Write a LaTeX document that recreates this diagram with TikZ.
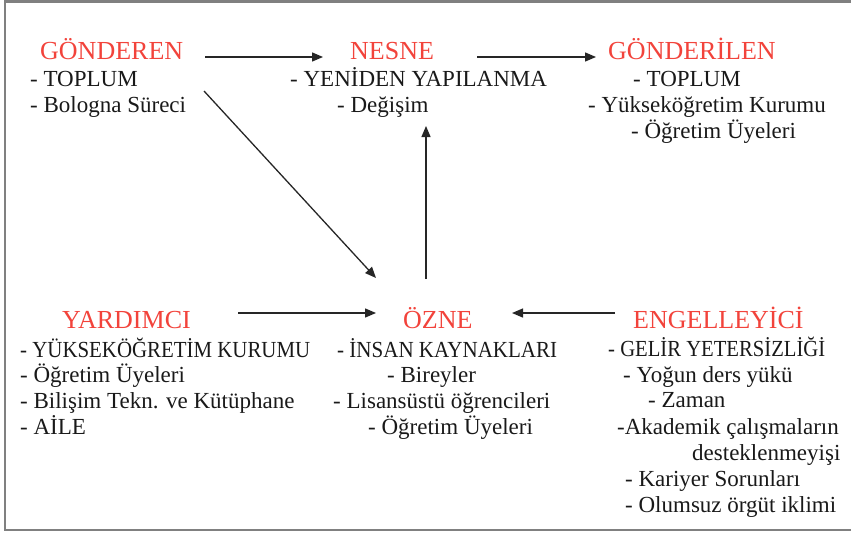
\documentclass[tikz,border=0pt]{standalone}
\usepackage{fontspec}
\usepackage{graphicx}
\setmainfont{Liberation Serif}
\usetikzlibrary{arrows.meta}
\definecolor{actred}{HTML}{F2433B}
\definecolor{actgray}{HTML}{808080}
\tikzset{
  role/.style={anchor=base west, inner sep=0pt, text=actred, font=\fontsize{26}{30}\selectfont},
  item/.style={anchor=base west, inner sep=0pt, text=black!90, font=\fontsize{23}{27}\selectfont},
  link/.style={-{Triangle[length=11pt,width=9pt]}, line width=1.3pt, black!85},
}
% condensed capitals line, kept at its own height
\newcommand{\capline}[2]{\resizebox{#1}{\height}{#2}}

\begin{document}
\begin{tikzpicture}[x=1pt, y=-1pt]
  \useasboundingbox (0,0) rectangle (851,533);
  % frame
  \draw[actgray, line width=2.2pt] (853,1.5) -- (5,1.5) -- (5,530) -- (853,530);

  % Gonderen
  \node[role] (gonderen) at (40,59) {GÖNDEREN};
  \node[item] (gonderenA) at (30,86) {- TOPLUM};
  \node[item] (gonderenB) at (30,112) {- Bologna Süreci};

  % Nesne
  \node[role] (nesne) at (350,59) {NESNE};
  \node[item] (nesneA) at (290,86) {- YENİDEN YAPILANMA};
  \node[item] (nesneB) at (337,112) {- Değişim};

  % Gonderilen
  \node[role] (gonderilen) at (608,59) {GÖNDERİLEN};
  \node[item] (gonderilenA) at (633,86) {- TOPLUM};
  \node[item] (gonderilenB) at (588,112) {- Yükseköğretim Kurumu};
  \node[item] (gonderilenC) at (631,138) {- Öğretim Üyeleri};

  % Yardimci
  \node[role] (yardimci) at (62,328) {YARDIMCI};
  \node[item] (yardimciA) at (20,357) {\capline{290pt}{- YÜKSEKÖĞRETİM KURUMU}};
  \node[item] (yardimciB) at (20,382) {- Öğretim Üyeleri};
  \node[item] (yardimciC) at (20,408) {- Bilişim Tekn. ve Kütüphane};
  \node[item] (yardimciD) at (20,434) {- AİLE};

  % Ozne
  \node[role] (ozne) at (403,328) {ÖZNE};
  \node[item] (ozneA) at (337,357) {\capline{220pt}{- İNSAN KAYNAKLARI}};
  \node[item] (ozneB) at (387,382) {- Bireyler};
  \node[item] (ozneC) at (333,408) {- Lisansüstü öğrencileri};
  \node[item] (ozneD) at (368,434) {- Öğretim Üyeleri};

  % Engelleyici
  \node[role] (engel) at (633,328) {ENGELLEYİCİ};
  \node[item] (engelA) at (608,356) {\capline{217pt}{- GELİR YETERSİZLİĞİ}};
  \node[item] (engelB) at (623,382) {- Yoğun ders yükü};
  \node[item] (engelC) at (648,407) {- Zaman};
  \node[item] (engelD) at (617,434) {-Akademik çalışmaların};
  \node[item] (engelE) at (692,460) {desteklenmeyişi};
  \node[item] (engelF) at (625,486) {- Kariyer Sorunları};
  \node[item] (engelG) at (625,512) {- Olumsuz örgüt iklimi};

  % arrow ends
  \coordinate (gonderenOut) at (205,57);
  \coordinate (gonderenDiag) at (204,91);
  \coordinate (nesneIn) at (323,57);
  \coordinate (nesneOut) at (477,57);
  \coordinate (nesneUp) at (426,126);
  \coordinate (gonderilenIn) at (596,57);
  \coordinate (yardimciOut) at (238,313);
  \coordinate (ozneLeft) at (376,313);
  \coordinate (ozneDiag) at (376,278);
  \coordinate (ozneTop) at (426,279);
  \coordinate (ozneRight) at (512,313);
  \coordinate (engelOut) at (615,313);

  \draw[link] (gonderenOut) -- (nesneIn);
  \draw[link] (nesneOut) -- (gonderilenIn);
  \draw[link] (gonderenDiag) -- (ozneDiag);
  \draw[link] (ozneTop) -- (nesneUp);
  \draw[link] (yardimciOut) -- (ozneLeft);
  \draw[link] (engelOut) -- (ozneRight);
\end{tikzpicture}
\end{document}
